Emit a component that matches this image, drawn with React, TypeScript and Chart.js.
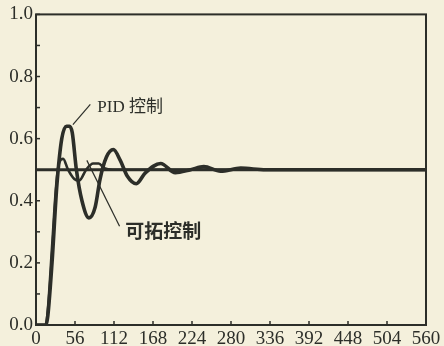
import React, { useEffect, useRef } from "react";
import { Chart, registerables } from "chart.js";

Chart.register(...registerables);

// time axis (x) values and responses
const pidT = [0, 14, 17, 23, 30, 37, 44, 48, 52, 58, 66, 76, 85, 92, 101, 111, 121, 131, 144, 157, 179, 200, 222, 241, 265, 294, 330, 560];
const pidY = [0, 0, 0.03, 0.2, 0.45, 0.6, 0.64, 0.64, 0.62, 0.5, 0.4, 0.345, 0.38, 0.47, 0.54, 0.565, 0.53, 0.48, 0.455, 0.49, 0.52, 0.49, 0.5, 0.51, 0.495, 0.505, 0.5, 0.5];

const extT = [0, 14, 17, 23, 29, 33, 39, 46, 55, 62, 72, 82, 90, 98, 110, 560];
const extY = [0, 0, 0.05, 0.25, 0.45, 0.52, 0.535, 0.5, 0.47, 0.465, 0.5, 0.52, 0.52, 0.505, 0.5, 0.5];

const refT = [0, 560];
const refY = [0.5, 0.5];

const xTicks = [0, 56, 112, 168, 224, 280, 336, 392, 448, 504, 560];
const yTicks = [0, 0.1, 0.2, 0.3, 0.4, 0.5, 0.6, 0.7, 0.8, 0.9, 1.0];

const pidLabel = "PID 控制";
const extLabel = "可拓控制";
// annotation anchors in data space: [t, y]
const pidLabelPos = [88, 0.7];
const pidPointer = [[53, 0.645], [78, 0.71]];
const extLabelPos = [128, 0.304];
const extPointer = [[73, 0.53], [120, 0.318]];

const INK = "#2c2e29";
const PAPER = "#f4f0dc";

export default function App() {
  const ref = useRef<HTMLCanvasElement | null>(null);
  useEffect(() => {
    const canvas = ref.current!;
    const deco = {
      id: "deco",
      beforeDraw(chart: any) {
        const { ctx } = chart;
        ctx.save();
        ctx.fillStyle = PAPER;
        ctx.fillRect(0, 0, chart.width, chart.height);
        ctx.restore();
      },
      afterDatasetsDraw(chart: any) {
        const { ctx, chartArea: a } = chart;
        const xs = chart.scales.x;
        const ys = chart.scales.y;
        ctx.save();
        ctx.strokeStyle = INK;
        ctx.lineWidth = 2;
        ctx.strokeRect(a.left, a.top, a.right - a.left, a.bottom - a.top);
        ctx.lineWidth = 1.5;
        // y ticks (inward)
        for (const v of yTicks) {
          const py = ys.getPixelForValue(v);
          ctx.beginPath();
          ctx.moveTo(a.left, py);
          ctx.lineTo(a.left + 4, py);
          ctx.stroke();
        }
        for (const v of xTicks) {
          const px = xs.getPixelForValue(v);
          ctx.beginPath();
          ctx.moveTo(px, a.bottom);
          ctx.lineTo(px, a.bottom - 4);
          ctx.stroke();
        }
        // pointers
        ctx.lineWidth = 1.2;
        for (const p of [pidPointer, extPointer]) {
          ctx.beginPath();
          ctx.moveTo(xs.getPixelForValue(p[0][0]), ys.getPixelForValue(p[0][1]));
          ctx.lineTo(xs.getPixelForValue(p[1][0]), ys.getPixelForValue(p[1][1]));
          ctx.stroke();
        }
        ctx.fillStyle = INK;
        ctx.textBaseline = "middle";
        ctx.textAlign = "left";
        ctx.font = "17px 'Liberation Serif', 'Noto Sans CJK SC', serif";
        ctx.fillText(pidLabel, xs.getPixelForValue(pidLabelPos[0]), ys.getPixelForValue(pidLabelPos[1]));
        ctx.font = "bold 19px 'Noto Sans CJK SC', sans-serif";
        ctx.fillText(extLabel, xs.getPixelForValue(extLabelPos[0]), ys.getPixelForValue(extLabelPos[1]));
        ctx.restore();
      },
    };
    const chart = new Chart(canvas, {
      type: "line",
      data: {
        datasets: [
          { label: "ref", data: refT.map((t, i) => ({ x: t, y: refY[i] })), borderColor: INK, borderWidth: 3, pointRadius: 0, tension: 0 },
          { label: "可拓控制", data: extT.map((t, i) => ({ x: t, y: extY[i] })), borderColor: INK, borderWidth: 2.6, pointRadius: 0, tension: 0.4, cubicInterpolationMode: "monotone" },
          { label: "PID 控制", data: pidT.map((t, i) => ({ x: t, y: pidY[i] })), borderColor: INK, borderWidth: 3.6, pointRadius: 0, tension: 0.4, cubicInterpolationMode: "monotone" },
        ],
      },
      options: {
        animation: false,
        responsive: false,
        layout: { padding: { top: 12, right: 18, left: 0, bottom: 0 } },
        plugins: { legend: { display: false }, tooltip: { enabled: false } },
        scales: {
          x: {
            type: "linear",
            min: 0,
            max: 560,
            grid: { display: false, drawTicks: false },
            border: { display: false },
            afterBuildTicks: (s: any) => { s.ticks = xTicks.map((v) => ({ value: v })); },
            afterFit: (s: any) => { s.height = 21; },
            ticks: {
              color: INK,
              padding: 3,
              maxRotation: 0,
              autoSkip: false,
              font: { family: "'Liberation Serif', serif", size: 19 },
              callback: (v: any) => String(v),
            },
          },
          y: {
            type: "linear",
            min: 0,
            max: 1,
            grid: { display: false, drawTicks: false },
            border: { display: false },
            afterBuildTicks: (s: any) => { s.ticks = yTicks.map((v) => ({ value: v })); },
            afterFit: (s: any) => { s.width = 36; },
            ticks: {
              color: INK,
              padding: 3,
              autoSkip: false,
              font: { family: "'Liberation Serif', serif", size: 19 },
              callback: (v: any) => {
                const n = Math.round(Number(v) * 10);
                return n % 2 === 0 ? (n / 10).toFixed(1) : "";
              },
            },
          },
        },
      },
      plugins: [deco],
    } as any);
    return () => chart.destroy();
  }, []);
  return (
    <div style={{ position: "fixed", left: 0, top: 0, width: 444, height: 346, background: PAPER }}>
      <canvas ref={ref} width={444} height={346} style={{ display: "block" }} />
    </div>
  );
}
